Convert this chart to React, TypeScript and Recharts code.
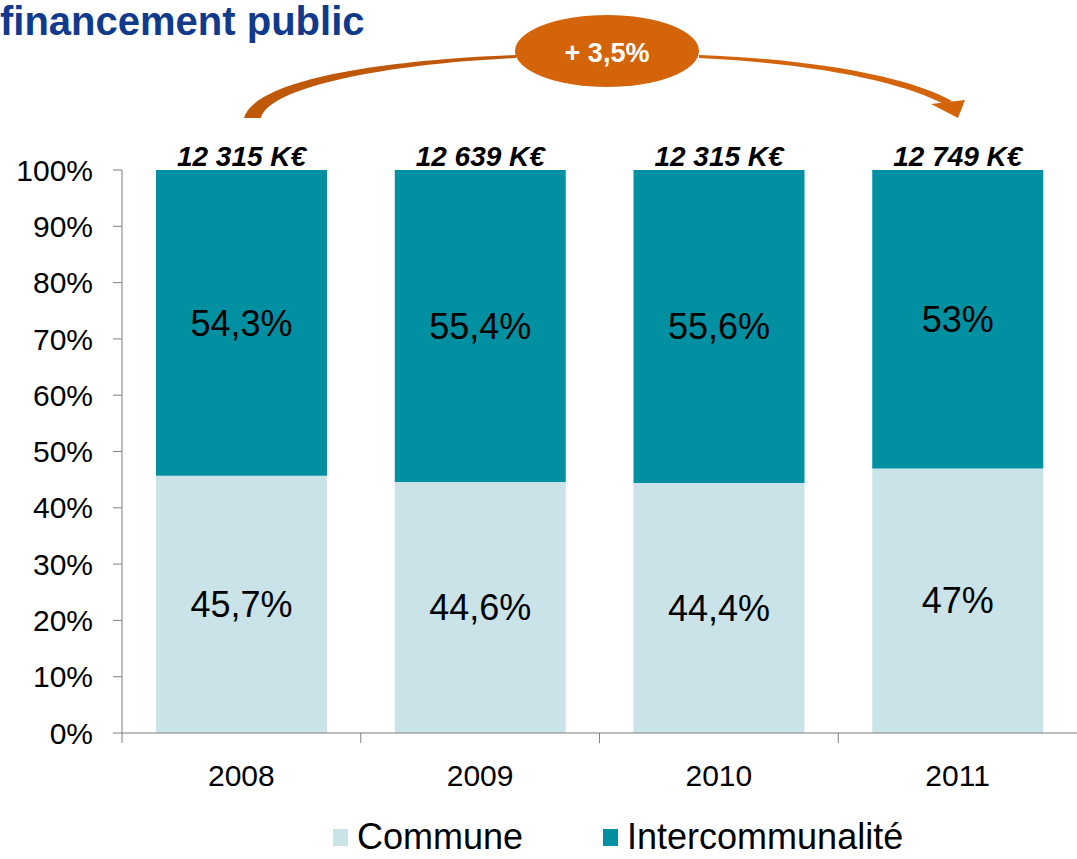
import React from 'react';
import { BarChart, Bar, XAxis, YAxis, Legend, LabelList } from 'recharts';

const years = ['2008', '2009', '2010', '2011'];
const commune = [45.7, 44.6, 44.4, 47];
const intercommunalite = [54.3, 55.4, 55.6, 53];
const totals = [12315, 12639, 12315, 12749];
const yTicks = [0, 10, 20, 30, 40, 50, 60, 70, 80, 90, 100];

const data = years.map((year, i) => ({
  year,
  commune: commune[i],
  intercommunalite: intercommunalite[i],
  total: totals[i],
}));

const W = 1077;
const H = 859;
const Y_AXIS_W = 122;
const band = (W - Y_AXIS_W) / years.length;
const FONT = '"Liberation Sans", Arial, sans-serif';
const AXIS = '#7f7f7f';
const TEAL = '#0090a2';
const LIGHT = '#c9e3e8';

const pct = (v: number) => `${String(v).replace('.', ',')}%`;
const keur = (v: number) => `${Math.floor(v / 1000)} ${String(v % 1000).padStart(3, '0')} K€`;

const YearTick = (props: any) => {
  const { x, y, payload } = props;
  const left = x - band / 2;
  return (
    <g>
      <line x1={left} y1={y} x2={left} y2={y + 10} stroke={AXIS} />
      <text x={x} y={y + 53} textAnchor="middle" fontSize={30} fill="#000" fontFamily={FONT}>
        {payload.value}
      </text>
    </g>
  );
};

const LegendContent = (props: any) => {
  const items = props.payload || [];
  return (
    <div
      style={{
        display: 'flex',
        alignItems: 'center',
        height: 40,
        paddingLeft: 333,
        fontFamily: FONT,
        fontSize: 36,
        color: '#000',
      }}
    >
      {items.map((it: any, i: number) => (
        <div key={i} style={{ display: 'flex', alignItems: 'center', marginRight: 80 }}>
          <span style={{ width: 15, height: 17, background: it.color, marginRight: 9 }} />
          <span>{it.value}</span>
        </div>
      ))}
    </div>
  );
};

export default function App() {
  return (
    <div style={{ position: 'absolute', left: 0, top: 0, width: W, height: H, overflow: 'hidden', background: '#fff' }}>
      <BarChart
        width={W}
        height={H}
        data={data}
        margin={{ top: 170, right: 0, bottom: 26, left: 0 }}
        barSize={171}
      >
        <XAxis
          dataKey="year"
          height={60}
          tickSize={0}
          tickMargin={0}
          axisLine={{ stroke: AXIS }}
          tick={<YearTick />}
          interval={0}
        />
        <YAxis
          width={Y_AXIS_W}
          domain={[0, 100]}
          ticks={yTicks}
          tickFormatter={(v: number) => `${v}%`}
          tickSize={9}
          tickMargin={20}
          axisLine={{ stroke: AXIS }}
          tickLine={{ stroke: AXIS }}
          tick={{ fontSize: 30, fill: '#000', fontFamily: FONT }}
        />
        <Legend content={<LegendContent />} wrapperStyle={{ left: 0, bottom: 2, width: W }} />
        <Bar dataKey="commune" name="Commune" stackId="a" fill={LIGHT} isAnimationActive={false}>
          <LabelList
            dataKey="commune"
            position="center"
            formatter={pct}
            style={{ fontSize: 36, fill: '#000', fontFamily: FONT }}
          />
        </Bar>
        <Bar dataKey="intercommunalite" name="Intercommunalité" stackId="a" fill={TEAL} isAnimationActive={false}>
          <LabelList
            dataKey="intercommunalite"
            position="center"
            formatter={pct}
            style={{ fontSize: 36, fill: '#000', fontFamily: FONT }}
          />
          <LabelList
            dataKey="total"
            position="top"
            offset={4}
            formatter={keur}
            style={{ fontSize: 28, fill: '#000', fontWeight: 'bold', fontStyle: 'italic', fontFamily: FONT }}
          />
        </Bar>
      </BarChart>

      {/* title + growth annotation */}
      <svg width={W} height={H} style={{ position: 'absolute', left: 0, top: 0, pointerEvents: 'none' }}>
        <text x={0} y={35} fontSize={40} fontWeight="bold" fill="#123a8c" fontFamily={FONT}>
          financement public
        </text>
        <path
          d="M244 118 C255 80 380 60 516 55 L516 58 C390 64 270 86 261 118 Z"
          fill="#c0580a"
        />
        <path
          d="M699 55 C830 60 915 80 952 101 L944 104 C905 84 825 64 699 58 Z"
          fill="#d4640a"
        />
        <path d="M931 104 L965 100 L958 118 Z" fill="#d4640a" />
        <ellipse cx={607} cy={51} rx={92} ry={36} fill="#d4640a" />
        <text x={607} y={62} textAnchor="middle" fontSize={27} fontWeight="bold" fill="#fff" fontFamily={FONT}>
          + 3,5%
        </text>
      </svg>
    </div>
  );
}
